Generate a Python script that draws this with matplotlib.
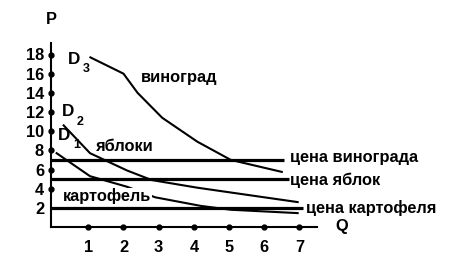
import matplotlib
matplotlib.use("Agg")
import matplotlib.pyplot as plt

plt.rcParams['font.family'] = ['Liberation Sans', 'DejaVu Sans']
plt.rcParams['font.weight'] = 'bold'

# demand curves
q_grapes = [1.06, 2.0, 2.4, 3.1, 4.1, 5.05, 6.5]
p_grapes = [17.7, 16.0, 14.0, 11.4, 8.9, 7.0, 5.75]

q_apples = [0.3, 1.05, 2.1, 2.8, 4.1, 6.95]
p_apples = [10.6, 7.7, 5.9, 4.9, 4.1, 2.6]

q_potato = [0.1, 1.05, 2.1, 2.9, 4.2, 5.05, 6.95]
p_potato = [7.7, 5.3, 4.2, 3.1, 2.2, 1.8, 1.45]

# horizontal price lines: level, end Q
price_levels = [7, 5, 2]
price_ends = [6.57, 6.69, 7.1]
price_labels = ['цена винограда', 'цена яблок', 'цена картофеля']

x_ticks = [1, 2, 3, 4, 5, 6, 7]
y_ticks = [2, 4, 6, 8, 10, 12, 14, 16, 18]
y_dots = [4, 6, 8, 10, 12, 14, 16, 18]

FS = 11.8

fig = plt.figure(figsize=(4.68, 2.59), dpi=100)
ax = fig.add_axes([51 / 468, 32 / 259, 266 / 468, 184 / 259])
ax.set_xlim(-0.06, 7.5)
ax.set_ylim(0, 19.2)

for s in ['top', 'right']:
    ax.spines[s].set_visible(False)
for s in ['left', 'bottom']:
    ax.spines[s].set_linewidth(1.5)
    ax.spines[s].set_color('black')

ax.set_xticks(x_ticks)
ax.set_xticklabels([str(v) for v in x_ticks], fontsize=FS, fontweight='bold')
ax.set_yticks(y_ticks)
ax.set_yticklabels([str(v) for v in y_ticks], fontsize=FS, fontweight='bold')
ax.tick_params(axis='x', length=0, pad=9)
ax.tick_params(axis='y', length=0, pad=5)

ax.plot(x_ticks, [0] * len(x_ticks), 'o', color='black', ms=3.5, clip_on=False)
ax.plot([-0.06] * len(y_dots), y_dots, 'o', color='black', ms=3.5, clip_on=False)

# price lines
for lvl, end in zip(price_levels, price_ends):
    ax.plot([-0.06, end], [lvl, lvl], color='black', lw=2.3, solid_capstyle='butt')

# demand curves
ax.plot(q_grapes, p_grapes, color='black', lw=1.5)
ax.plot(q_apples, p_apples, color='black', lw=1.5)
ax.plot(q_potato, p_potato, color='black', lw=1.5)

# labels
ax.text(2.49, 15.6, 'виноград', fontsize=FS, fontweight='bold', va='center')
ax.text(1.23, 8.4, 'яблоки', fontsize=FS, fontweight='bold', va='center')
ax.text(0.28, 3.2, 'картофель', fontsize=FS, fontweight='bold', va='center',
        bbox=dict(facecolor='white', edgecolor='none', pad=0.5), zorder=5)

ax.text(6.72, 7.3, price_labels[0], fontsize=FS, fontweight='bold', va='center')
ax.text(6.72, 4.9, price_labels[1], fontsize=FS, fontweight='bold', va='center')
ax.text(7.2, 2.0, price_labels[2], fontsize=FS, fontweight='bold', va='center')

ax.text(-0.06, 21.6, 'P', fontsize=FS, fontweight='bold', ha='center', va='center',
        clip_on=False)
ax.text(8.2, 0.05, 'Q', fontsize=FS, fontweight='bold', ha='center', va='center',
        clip_on=False)

# D labels with subscripts
d_pos = [(0.43, 17.5, '3'), (0.26, 12.0, '2'), (0.14, 9.6, '1')]
for dq, dp, sub in d_pos:
    ax.text(dq, dp, 'D', fontsize=FS + 0.5, fontweight='bold', va='center')
    ax.text(dq + 0.42, dp - 1.0, sub, fontsize=9, fontweight='bold', va='center')

fig.savefig('out.png', dpi=100)
